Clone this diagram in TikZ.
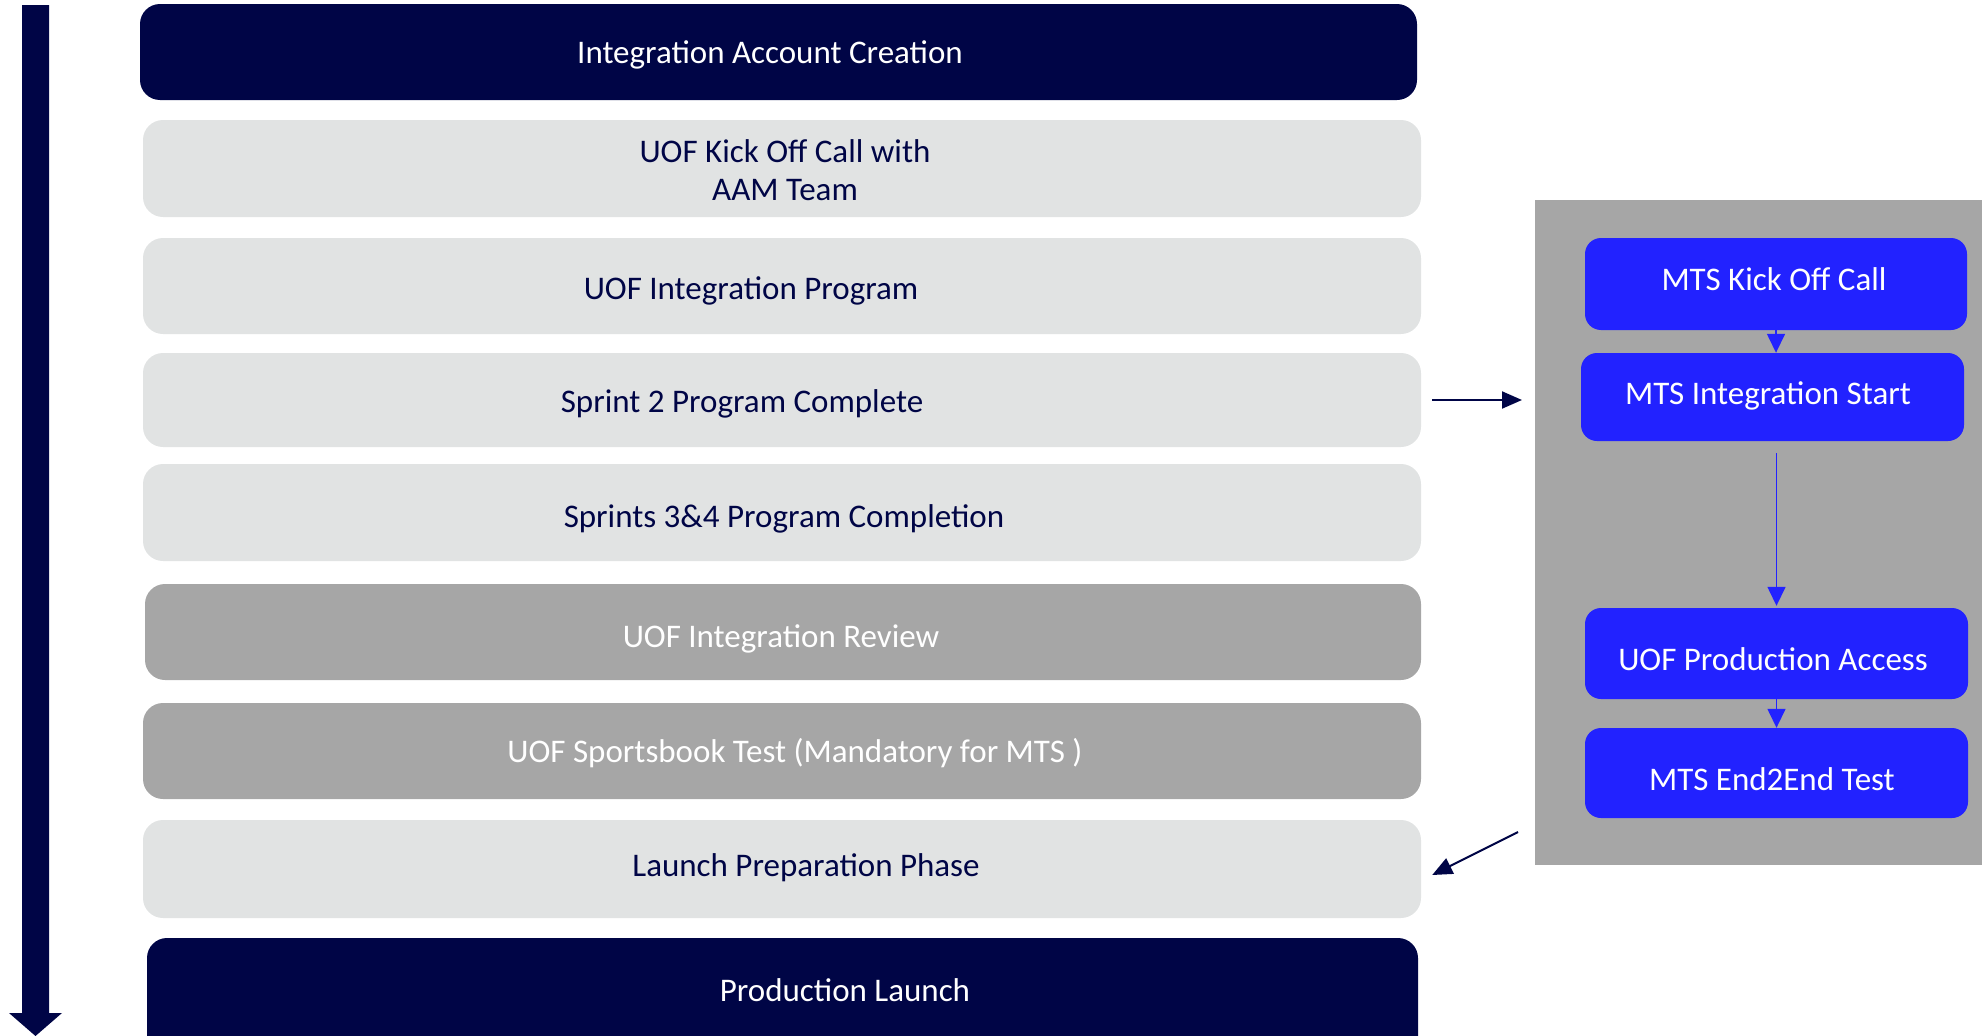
\documentclass[tikz,border=0pt]{standalone}
\usepackage{fontspec}
\setmainfont{Carlito}
\usetikzlibrary{arrows.meta}
\definecolor{navy}{RGB}{0,5,70}
\definecolor{lightg}{RGB}{225,227,227}
\definecolor{darkg}{RGB}{166,166,166}
\definecolor{mtsblue}{RGB}{34,34,255}
\tikzset{
  box/.style={rounded corners=20pt, inner sep=0pt},
  navybox/.style={box, fill=navy},
  lightbox/.style={box, fill=lightg},
  greybox/.style={box, fill=darkg},
  bluebox/.style={box, fill=mtsblue, rounded corners=16pt},
  lbl/.style={font=\fontsize{33}{38}\selectfont, inner sep=0pt, align=center, yshift=-3pt},
  darklbl/.style={lbl, text=navy},
  whitelbl/.style={lbl, text=white},
  bluearrow/.style={draw=mtsblue, line width=1.5pt, -{Triangle[length=19pt,width=18pt]}},
  navyarrow/.style={draw=navy, line width=2pt, -{Triangle[length=20pt,width=17pt]}},
}
\begin{document}
\begin{tikzpicture}[x=1pt,y=-1pt]
\useasboundingbox (0,0) rectangle (1982,1036);
\clip (0,0) rectangle (1982,1036);
% big timeline arrow
\fill[navy] (22,5) -- (49,5) -- (49,1013) -- (62,1013) -- (35.5,1036) -- (9,1013) -- (22,1013) -- cycle;
% left boxes
\node[navybox, minimum width=1277pt, minimum height=96pt] (b1) at (778.5,52) {};
\node[whitelbl] (t1) at (770,52) {Integration Account Creation};
\node[lightbox, minimum width=1278pt, minimum height=97pt] (b2) at (782,168.5) {};
\node[darklbl] (t2) at (785,167) {UOF Kick Off Call with\\AAM Team};
\node[lightbox, minimum width=1278pt, minimum height=96pt] (b3) at (782,286) {};
\node[darklbl] (t3) at (751,288) {UOF Integration Program};
\node[lightbox, minimum width=1278pt, minimum height=94pt] (b4) at (782,400) {};
\node[darklbl] (t4) at (742,401) {Sprint 2 Program Complete};
\node[lightbox, minimum width=1278pt, minimum height=97pt] (b5) at (782,512.5) {};
\node[darklbl] (t5) at (784,516) {Sprints 3\&4 Program Completion};
\node[greybox, minimum width=1276pt, minimum height=96pt] (b6) at (783,632) {};
\node[whitelbl] (t6) at (781,636) {UOF Integration Review};
\node[greybox, minimum width=1278pt, minimum height=96pt] (b7) at (782,751) {};
\node[whitelbl] (t7) at (795,750) {UOF Sportsbook Test (Mandatory for MTS )};
\node[lightbox, minimum width=1278pt, minimum height=98pt] (b8) at (782,869) {};
\node[darklbl] (t8) at (806,865) {Launch Preparation Phase};
\node[navybox, minimum width=1271pt, minimum height=142pt] (b9) at (782.5,1009) {};
\node[whitelbl] (t9) at (845,987) {Production Launch};
% right panel
\fill[darkg] (1535,200) rectangle (1990,865);
\coordinate (pin) at (1522,400);
\coordinate (pout) at (1518,832);
\node[bluebox, minimum width=382pt, minimum height=92pt] (m1) at (1776,284) {};
\node[whitelbl] (m1t) at (1774,276) {MTS Kick Off Call};
\node[bluebox, minimum width=383pt, minimum height=88pt] (m2) at (1772.5,397) {};
\node[whitelbl] (m2t) at (1768,393) {MTS Integration Start};
\node[bluebox, minimum width=383pt, minimum height=91pt] (m3) at (1776.5,653.5) {};
\node[whitelbl] (m3t) at (1773,656) {UOF Production Access};
\node[bluebox, minimum width=383pt, minimum height=90pt] (m4) at (1776.5,773) {};
\node[whitelbl] (m4t) at (1772,776) {MTS End2End Test};
% arrows
\draw[bluearrow] (m1.south) -- (m1.south |- m2.north);
\draw[bluearrow] ([xshift=4pt,yshift=-12pt]m2.south) -- ([xshift=4pt,yshift=2pt]m2.south |- m3.north);
\draw[bluearrow] (m3.south) -- (m3.south |- m4.north);
\draw[navyarrow] ([xshift=11pt]b4.east) -- (pin);
\draw[navyarrow] (pout) -- ([xshift=11pt,yshift=-6pt]b8.east);
\end{tikzpicture}
\end{document}
